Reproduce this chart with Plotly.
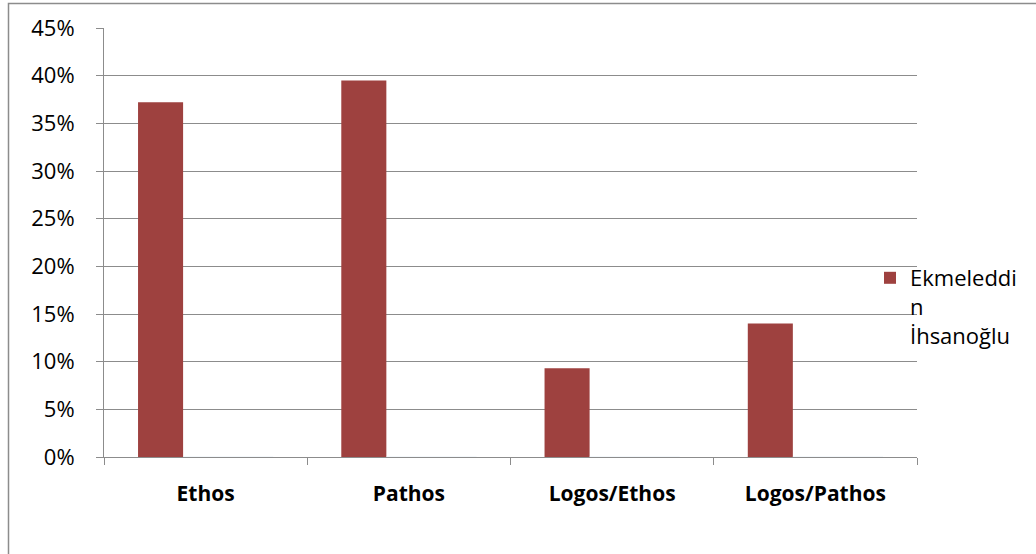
import plotly.graph_objects as go

# Share of persuasive appeals by category
categories = ["Ethos", "Pathos", "Logos/Ethos", "Logos/Pathos"]
legend_label = "Ekmeleddi<br>n<br>İhsanoğlu"
values = [0.372, 0.395, 0.093, 0.140]
# empty companion series that keep the three-slot cluster layout
companion_a = [0, 0, 0, 0]
companion_b = [0, 0, 0, 0]

y_ticks = [0, 0.05, 0.10, 0.15, 0.20, 0.25, 0.30, 0.35, 0.40, 0.45]

W, H = 1036, 554
L, R, T, B = 104, 119, 28, 97
pw, ph = W - L - R, H - T - B


def px_x(p):
    return (p - L) / pw


def px_y(p):
    return 1 - (p - T) / ph


fig = go.Figure()
fig.add_trace(go.Bar(
    x=categories, y=values, name=legend_label,
    marker=dict(color="#9E413F", line=dict(width=0)),
))
for comp in (companion_a, companion_b):
    fig.add_trace(go.Bar(
        x=categories, y=comp, name="", showlegend=False,
        marker=dict(color="rgba(0,0,0,0)"), hoverinfo="skip",
    ))

grid = "#8C8C8C"
font = "Open Sans"

fig.update_layout(
    width=W, height=H,
    margin=dict(l=L, r=R, t=T, b=B, pad=0),
    paper_bgcolor="white", plot_bgcolor="white",
    barmode="group", bargap=0.335, bargroupgap=0,
    font=dict(family=font, color="black"),
    legend=dict(
        x=px_x(870), y=px_y(257),
        xanchor="left", yanchor="top",
        font=dict(size=22, family=font), valign="top",
        bgcolor="rgba(0,0,0,0)", itemwidth=30, tracegroupgap=0,
    ),
    xaxis=dict(
        showline=True, linecolor=grid, linewidth=1,
        ticks="outside", tickson="boundaries", ticklen=7, tickcolor=grid,
        showgrid=False,
        tickfont=dict(size=21, family=font, weight="bold"),
        ticklabelstandoff=18,
    ),
    yaxis=dict(
        range=[0, 0.45], tickvals=y_ticks, tickformat=".0%",
        showline=True, linecolor=grid, linewidth=1,
        ticks="outside", ticklen=7, tickcolor=grid,
        showgrid=True, gridcolor=grid, gridwidth=1,
        tickfont=dict(size=22, family=font), zeroline=False,
        ticklabelstandoff=17,
    ),
    shapes=[
        # chart-area frame; its right and bottom edges run off the page
        dict(type="rect", xref="paper", yref="paper", layer="above",
             x0=px_x(8.5), x1=px_x(W + 20),
             y0=px_y(3.5), y1=px_y(H + 20),
             line=dict(color="#8C8C8C", width=1.5),
             fillcolor="rgba(0,0,0,0)"),
    ],
)

fig.write_html("out.html")
